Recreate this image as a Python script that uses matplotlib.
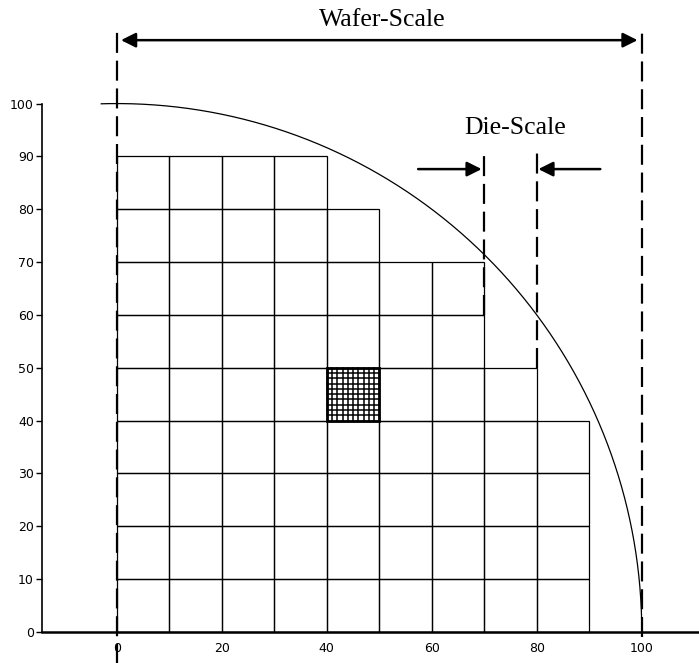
import numpy as np
import matplotlib
matplotlib.use('Agg')
import matplotlib.pyplot as plt
from matplotlib.patches import Rectangle

# wafer quadrant: radius and die size
wafer_radius = 100
die_size = 10
# number of whole dies in each row, bottom row first
row_dies = [9, 9, 9, 9, 8, 7, 7, 5, 4]
# the one die that is drawn subdivided (lower-left corner, in dies)
zoom_die = (4, 4)
zoom_sub = 10

x_ticks = [0, 20, 40, 60, 80, 100]
y_ticks = [0, 10, 20, 30, 40, 50, 60, 70, 80, 90, 100]

fig = plt.figure(figsize=(6.99, 6.63), dpi=100)
ax = fig.add_axes([0, 0, 1, 1])
ax.set_xlim(-22.25, 110.9)
ax.set_ylim(-5.87, 119.6)

# dies
for row, n in enumerate(row_dies):
	for col in range(n):
		ax.add_patch(Rectangle((col*die_size, row*die_size), die_size, die_size,
			fill=False, ec='k', lw=0.9))

# subdivided die
zx, zy = zoom_die[0]*die_size, zoom_die[1]*die_size
step = die_size/zoom_sub
for i in range(1, zoom_sub):
	ax.plot([zx+i*step, zx+i*step], [zy, zy+die_size], 'k-', lw=1.1)
	ax.plot([zx, zx+die_size], [zy+i*step, zy+i*step], 'k-', lw=1.1)
ax.add_patch(Rectangle((zx, zy), die_size, die_size, fill=False, ec='k', lw=2))

# wafer edge
th = np.linspace(0, np.radians(91.7), 300)
ax.plot(wafer_radius*np.cos(th), wafer_radius*np.sin(th), 'k-', lw=0.9)

# dashed guides
dash = dict(color='k', lw=1.6, linestyle=(0, (9, 3.5)))
ax.plot([0, 0], [-6, 113.8], **dash)
ax.plot([wafer_radius, wafer_radius], [-1, 113.8], **dash)
ax.plot([7*die_size, 7*die_size], [60, 91.2], **dash)
ax.plot([8*die_size, 8*die_size], [50, 91.2], **dash)

# arrows
arrow = dict(color='k', lw=1.8, mutation_scale=22, shrinkA=0, shrinkB=0)
ax.annotate('', xy=(0.8, 112), xytext=(99.2, 112), arrowprops=dict(arrowstyle='<|-|>', **arrow))
ax.annotate('', xy=(69.5, 87.6), xytext=(57.4, 87.6), arrowprops=dict(arrowstyle='-|>', **arrow))
ax.annotate('', xy=(80.3, 87.6), xytext=(92.1, 87.6), arrowprops=dict(arrowstyle='-|>', **arrow))
ax.text(50.5, 115.8, 'Wafer-Scale', ha='center', va='center', family='Liberation Serif', fontsize=18.5)
ax.text(75.8, 95.4, 'Die-Scale', ha='center', va='center', family='Liberation Serif', fontsize=18.5)

# axes
for s in ['top', 'right']:
	ax.spines[s].set_visible(False)
ax.spines['left'].set_position(('data', -14.2))
ax.spines['left'].set_bounds(0, 100)
ax.spines['bottom'].set_position(('data', 0))
ax.spines['bottom'].set_bounds(-14.2, 110.9)
ax.spines['left'].set_linewidth(1.2)
ax.spines['bottom'].set_linewidth(1.8)
ax.set_xticks(x_ticks)
ax.set_yticks(y_ticks)
ax.tick_params(axis='x', length=0, pad=7, labelsize=9)
ax.tick_params(axis='y', length=4, width=1, pad=2, labelsize=9)
ax.patch.set_visible(False)

fig.savefig('out.png', dpi=100)
